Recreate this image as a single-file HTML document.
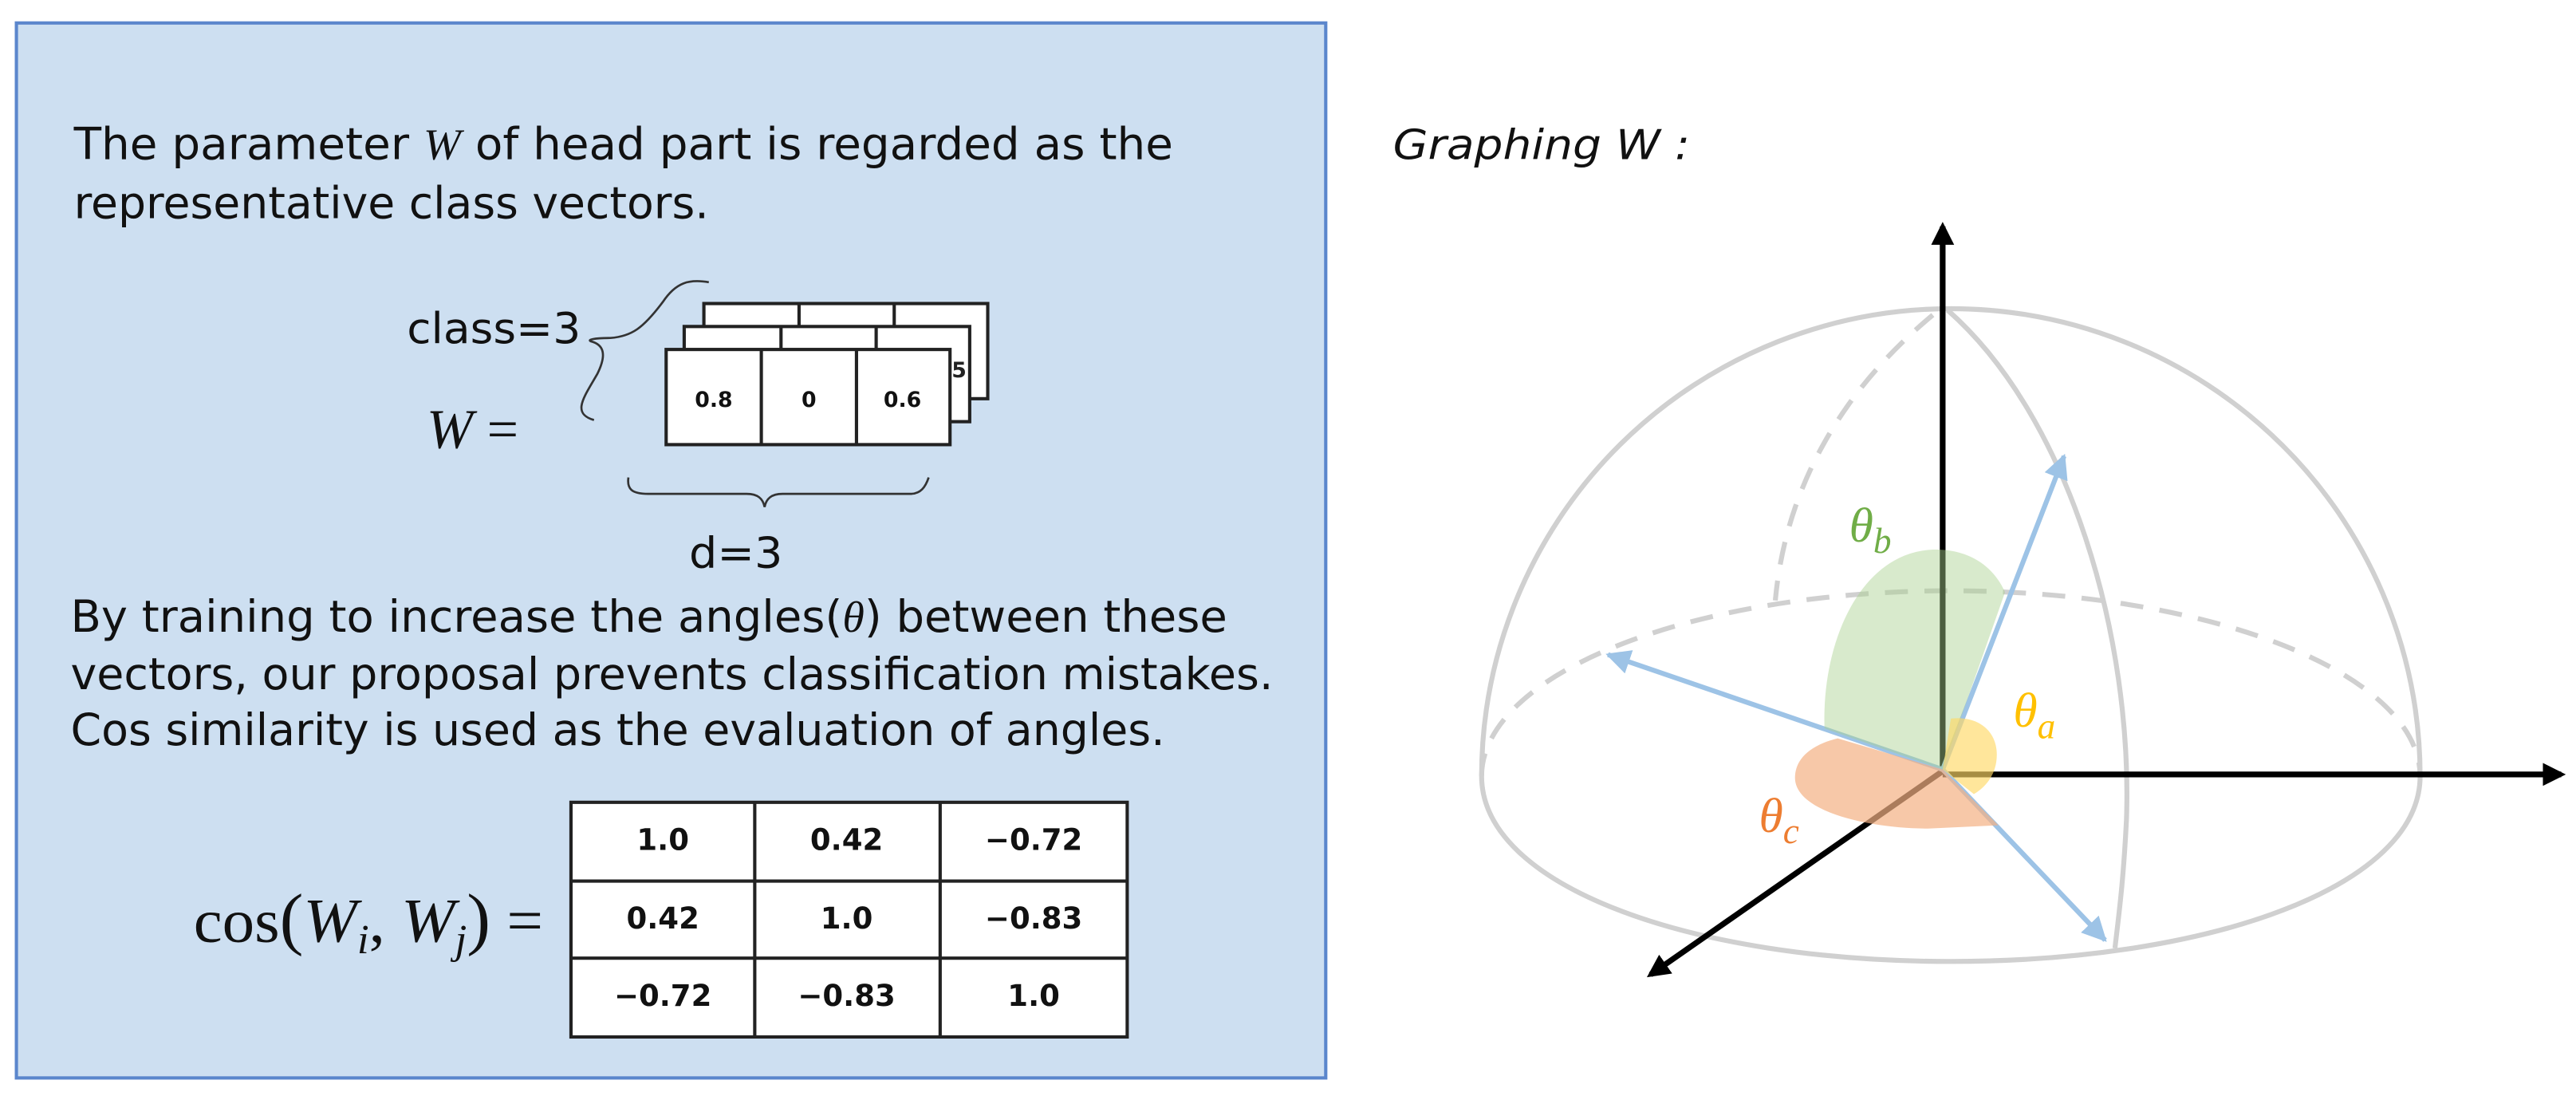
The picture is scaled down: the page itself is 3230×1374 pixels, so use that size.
<!DOCTYPE html>
<html><head><meta charset="utf-8"><style>html,body{margin:0;padding:0;background:#fff}svg{display:block}</style></head>
<body>
<svg width="3230" height="1374" viewBox="0 0 1570 668" preserveAspectRatio="none" xmlns="http://www.w3.org/2000/svg">
<defs>
<marker id="ak" markerWidth="4" markerHeight="4" refX="3.2" refY="2" orient="auto" markerUnits="strokeWidth"><path d="M0,0 L4,2 L0,4 z" fill="#000"/></marker>
<marker id="ab" markerWidth="5" markerHeight="5" refX="4.5" refY="2.5" orient="auto" markerUnits="strokeWidth"><path d="M0,0 L5,2.5 L0,5 z" fill="#9dc3e6"/></marker>
</defs>
<rect x="10" y="14" width="798" height="643" fill="#cddff1" stroke="#5b86cc" stroke-width="2"/>
<g font-family="DejaVu Sans, Liberation Sans, sans-serif" fill="#111">
<text x="45" y="97" font-size="27" textLength="670" lengthAdjust="spacingAndGlyphs">The parameter <tspan font-family="Liberation Serif, serif" font-style="italic">W</tspan> of head part is regarded as the</text>
<text x="45" y="133" font-size="27" textLength="387" lengthAdjust="spacingAndGlyphs">representative class vectors.</text>
<text x="248" y="209" font-size="26" textLength="106" lengthAdjust="spacingAndGlyphs">class=3</text>
<text x="420" y="346" font-size="26" textLength="57" lengthAdjust="spacingAndGlyphs">d=3</text>
<text x="43" y="385" font-size="27" textLength="705" lengthAdjust="spacingAndGlyphs">By training to increase the angles(<tspan font-family="Liberation Serif, serif" font-style="italic">θ</tspan>) between these</text>
<text x="43" y="420" font-size="27" textLength="733" lengthAdjust="spacingAndGlyphs">vectors, our proposal prevents classification mistakes.</text>
<text x="43" y="454" font-size="27" textLength="667" lengthAdjust="spacingAndGlyphs">Cos similarity is used as the evaluation of angles.</text>
</g>
<text x="260" y="273" font-family="Liberation Serif, serif" font-size="34" fill="#111"><tspan font-style="italic">W</tspan> =</text>
<path d="M432,172 C420,170 412,172 404,184 C392,200 385,205 372,206 C362,206 358,207 360,208 C368,210 370,216 364,228 C356,242 348,252 362,256" fill="none" stroke="#333" stroke-width="1.3"/>
<g stroke="#222" stroke-width="2" fill="#fff">
<rect x="429" y="185" width="173" height="58"/><line x1="487" y1="185" x2="487" y2="243"/><line x1="545" y1="185" x2="545" y2="243"/>
<rect x="417" y="199" width="174" height="58"/><line x1="476" y1="199" x2="476" y2="257"/><line x1="534" y1="199" x2="534" y2="257"/>
</g>
<text x="580" y="230" font-family="DejaVu Sans, sans-serif" font-weight="bold" font-size="13" fill="#222">5</text>
<g stroke="#222" stroke-width="2" fill="#fff">
<rect x="406" y="213" width="173" height="58"/><line x1="464" y1="213" x2="464" y2="271"/><line x1="522" y1="213" x2="522" y2="271"/>
</g>
<g font-family="DejaVu Sans, sans-serif" font-weight="bold" font-size="13" fill="#111" text-anchor="middle">
<text x="435" y="248">0.8</text><text x="493" y="248">0</text><text x="550" y="248">0.6</text>
</g>
<path d="M383,291 C382,298 385,301 395,301 L455,301 C462,301 465,304 466,309 C467,304 470,301 477,301 L555,301 C561,301 564,297 566,291" fill="none" stroke="#333" stroke-width="1.3"/>
<text x="118" y="574" font-family="Liberation Serif, serif" font-size="38" fill="#111" textLength="213" lengthAdjust="spacingAndGlyphs">cos<tspan font-size="42">(</tspan><tspan font-style="italic">W</tspan><tspan font-style="italic" font-size="25" dy="7">i</tspan><tspan dy="-7">, </tspan><tspan font-style="italic">W</tspan><tspan font-style="italic" font-size="25" dy="7">j</tspan><tspan dy="-7" font-size="42">)</tspan> =</text>
<g stroke="#222" stroke-width="2" fill="#fff">
<rect x="348" y="489" width="339" height="143"/>
<line x1="460" y1="489" x2="460" y2="632"/><line x1="573" y1="489" x2="573" y2="632"/>
<line x1="348" y1="537" x2="687" y2="537"/><line x1="348" y1="584" x2="687" y2="584"/>
</g>
<g font-family="DejaVu Sans, sans-serif" font-weight="bold" font-size="18" fill="#111" text-anchor="middle">
<text x="404" y="518">1.0</text><text x="516" y="518">0.42</text><text x="630" y="518">−0.72</text>
<text x="404" y="566">0.42</text><text x="516" y="566">1.0</text><text x="630" y="566">−0.83</text>
<text x="404" y="613">−0.72</text><text x="516" y="613">−0.83</text><text x="630" y="613">1.0</text>
</g>
<text x="849" y="97" font-family="DejaVu Sans, sans-serif" font-style="italic" font-size="25" fill="#111" textLength="181" lengthAdjust="spacingAndGlyphs">Graphing W :</text>
<g fill="none" stroke="#d0d0d0" stroke-width="3">
<path d="M903,473 A286,113 0 0 1 1475,473" stroke-dasharray="14,10"/>
<path d="M1178,192 C1120,240 1088,300 1082,366" stroke-dasharray="14,10"/>
<path d="M903,473 A286,285 0 0 1 1475,473"/>
<path d="M903,473 C903,540 1030,586 1189,586 C1348,586 1475,540 1475,473"/>
<path d="M1187,189 C1262,255 1300,390 1296,500 C1294,540 1291,560 1289,578"/>
</g>
<g stroke="#000" stroke-width="3.5" fill="none">
<line x1="1184" y1="470" x2="1184" y2="138" marker-end="url(#ak)"/>
<line x1="1184" y1="472" x2="1561" y2="472" marker-end="url(#ak)"/>
<line x1="1184" y1="470" x2="1006" y2="594" marker-end="url(#ak)"/>
</g>
<g stroke="#9dc3e6" stroke-width="3" fill="none">
<line x1="1184" y1="469" x2="1258" y2="278" marker-end="url(#ab)"/>
<line x1="1184" y1="469" x2="980" y2="399" marker-end="url(#ab)"/>
<line x1="1184" y1="469" x2="1283" y2="573" marker-end="url(#ab)"/>
</g>
<path d="M1184,469 L1112,444 C1110,390 1135,335 1180,335 C1200,335 1215,345 1222,361 Z" fill="#a9d18e" fill-opacity="0.45"/>
<path d="M1184,469 L1189,438 C1205,436 1217,445 1217,460 C1217,472 1210,480 1203,484 Z" fill="#ffd966" fill-opacity="0.65"/>
<path d="M1184,469 L1120,450 C1100,455 1094,465 1094,474 C1094,495 1140,505 1175,505 L1218,503 Z" fill="#f4b183" fill-opacity="0.7"/>
<g font-family="Liberation Serif, serif" font-style="italic" font-size="30">
<text x="1127" y="330" fill="#70ad47">θ<tspan font-size="22" dy="7">b</tspan></text>
<text x="1227" y="443" fill="#ffc000">θ<tspan font-size="22" dy="7">a</tspan></text>
<text x="1072" y="507" fill="#ed7d31">θ<tspan font-size="22" dy="7">c</tspan></text>
</g>
</svg>
</body></html>
